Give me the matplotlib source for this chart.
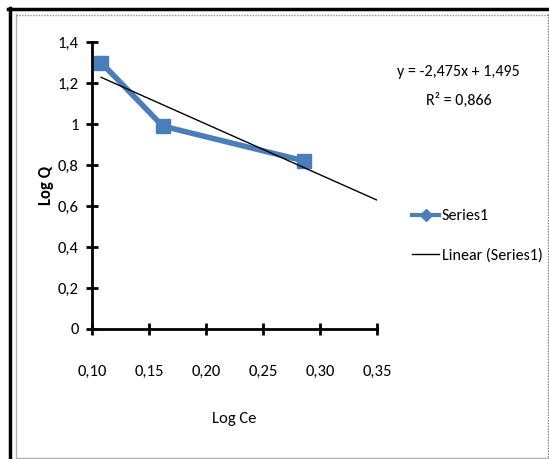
import matplotlib
matplotlib.use('Agg')
import matplotlib.pyplot as plt
import numpy as np
from matplotlib.lines import Line2D

# data
log_ce = [0.108, 0.162, 0.286]
log_q = [1.30, 0.99, 0.82]
slope = -2.475
intercept = 1.495
x_ticks = [0.10, 0.15, 0.20, 0.25, 0.30, 0.35]
x_tick_labels = ['0,10', '0,15', '0,20', '0,25', '0,30', '0,35']
y_ticks = [0, 0.2, 0.4, 0.6, 0.8, 1.0, 1.2, 1.4]
y_tick_labels = ['0', '0,2', '0,4', '0,6', '0,8', '1', '1,2', '1,4']

plt.rcParams['font.family'] = ['Carlito', 'DejaVu Sans']

W, H = 549, 459
fig = plt.figure(figsize=(W / 100, H / 100), dpi=100)

def fx(px):
    return px / W

def fy(py):
    return 1 - py / H

# outer frame
fig.add_artist(Line2D([fx(9.5), fx(9.5)], [fy(8), fy(459)], color='black', lw=2.5))
fig.add_artist(Line2D([fx(8), fx(549)], [fy(9), fy(9)], color='black', lw=2.5))
fig.add_artist(Line2D([fx(16), fx(16)], [fy(14), fy(458)], color='#b0b0b0', lw=1))
fig.add_artist(Line2D([fx(16), fx(549)], [fy(14.5), fy(14.5)], color='#909090', lw=1, ls=(0, (1, 1))))
fig.add_artist(Line2D([fx(547.5), fx(547.5)], [fy(14), fy(458)], color='#707070', lw=1, ls=(0, (1, 1))))
fig.add_artist(Line2D([fx(16), fx(549)], [fy(458), fy(458)], color='#b0b0b0', lw=1))

ax = fig.add_axes([fx(92), fy(329), fx(377) - fx(92), fy(42) - fy(329)])

# trendline
xt = np.array([min(log_ce), 0.35])
ax.plot(xt, slope * xt + intercept, color='black', lw=1, zorder=3,
        label='Linear (Series1)')
ax.plot(log_ce, log_q, color='#4a7ebb', lw=4, marker='s', markersize=10,
        zorder=2, label='Series1')

ax.set_xlim(0.10, 0.35)
ax.set_ylim(0, 1.4)
ax.set_xticks(x_ticks)
ax.set_xticklabels(x_tick_labels)
ax.set_yticks(y_ticks)
ax.set_yticklabels(y_tick_labels)
for s in ['top', 'right']:
    ax.spines[s].set_visible(False)
for s in ['left', 'bottom']:
    ax.spines[s].set_linewidth(2)
ax.tick_params(axis='both', direction='inout', length=9, width=2, labelsize=12)
ax.tick_params(axis='x', pad=21)
ax.tick_params(axis='y', pad=5)

ax.set_xlabel('Log Ce', fontsize=12, labelpad=24)
ax.set_ylabel('Log Q', fontsize=12, fontweight='bold', labelpad=3)

# equation
fig.text(fx(458), fy(72), 'y = -2,475x + 1,495', ha='center', va='center', fontsize=11.5)
fig.text(fx(459), fy(100), 'R² = 0,866', ha='center', va='center', fontsize=11.5)

# legend
h1 = Line2D([], [], color='#4a7ebb', lw=3, marker='D', markersize=6)
h2 = Line2D([], [], color='black', lw=1)
fig.legend([h1, h2], ['Series1', 'Linear (Series1)'], loc='center left',
           bbox_to_anchor=(fx(412), fy(236)), frameon=False, fontsize=11.5,
           borderpad=0, borderaxespad=0,
           handlelength=1.7, handletextpad=0.15, labelspacing=1.6)

fig.savefig('out.png', dpi=100)
